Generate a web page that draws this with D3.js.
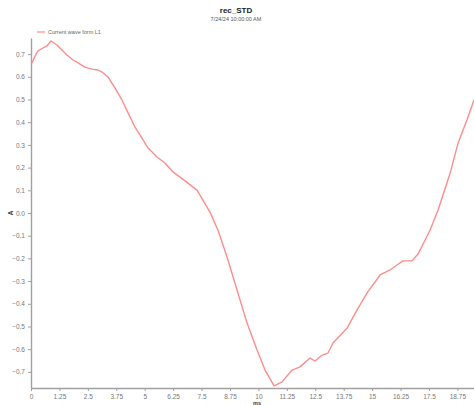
<!DOCTYPE html>
<html>
<head>
<meta charset="utf-8">
<script src="https://cdn.jsdelivr.net/npm/d3@7"></script>
<style>
  body { margin: 0; background: #fff; }
  text { font-family: "Liberation Sans", Arial, sans-serif; }
  .axis path, .axis line { stroke: #a0a0a0; }
  .axis text { fill: #777; font-size: 6.5px; }
</style>
</head>
<body>
<div id="chart"></div>
<script>
// time in ms
var times = [0.04, 0.22, 0.31, 0.53, 0.70, 0.88, 1.14, 1.36, 1.58, 1.85, 2.07, 2.37, 2.68, 2.95, 3.12,
  3.39, 3.69, 4.00, 4.27, 4.57, 4.88, 5.15, 5.54, 5.89, 6.24, 6.73, 7.30, 7.87, 8.22, 8.62, 9.06,
  9.50, 9.94, 10.29, 10.69, 11.04, 11.48, 11.83, 12.27, 12.49, 12.80, 13.06, 13.28, 13.90, 14.34,
  14.78, 15.35, 15.79, 16.09, 16.36, 16.75, 17.02, 17.33, 17.55, 17.90, 18.29, 18.47, 18.56, 18.78,
  19.17, 19.48]
// current in A
var current = [0.661, 0.700, 0.714, 0.727, 0.736, 0.758, 0.740, 0.718, 0.696, 0.674, 0.661, 0.643,
  0.634, 0.630, 0.621, 0.599, 0.551, 0.498, 0.441, 0.379, 0.330, 0.286, 0.247, 0.220, 0.181, 0.145,
  0.101, 0.004, -0.075, -0.194, -0.339, -0.485, -0.604, -0.692, -0.762, -0.744, -0.692, -0.678,
  -0.639, -0.652, -0.626, -0.617, -0.573, -0.507, -0.427, -0.352, -0.273, -0.251, -0.229, -0.211,
  -0.211, -0.181, -0.119, -0.075, 0.013, 0.132, 0.189, 0.225, 0.308, 0.410, 0.498]
var xTicks = [0, 1.25, 2.5, 3.75, 5, 6.25, 7.5, 8.75, 10, 11.25, 12.5, 13.75, 15, 16.25, 17.5, 18.75]
var yTicks = [0.7, 0.6, 0.5, 0.4, 0.3, 0.2, 0.1, 0, -0.1, -0.2, -0.3, -0.4, -0.5, -0.6, -0.7]
var seriesName = "Current wave form L1"

var W = 474, H = 405
var margin = { top: 38, right: 0, bottom: 17, left: 31 }

var svg = d3.select("#chart").append("svg")
  .attr("width", W)
  .attr("height", H)

var x = d3.scaleLinear()
  .domain([0, 19.48])
  .range([margin.left, W - margin.right])

var y = d3.scaleLinear()
  .domain([-0.771, 0.771])
  .range([H - margin.bottom, margin.top])

var xAxis = d3.axisBottom(x)
  .tickValues(xTicks)
  .tickSize(3)
  .tickSizeOuter(0)
  .tickFormat(function (d) { return String(d); })

svg.append("g")
  .attr("class", "x axis")
  .attr("transform", "translate(0," + (H - margin.bottom) + ")")
  .call(xAxis)

var yAxis = d3.axisLeft(y)
  .tickValues(yTicks)
  .tickSize(3)
  .tickSizeOuter(0)
  .tickFormat(d3.format(".1f"))

svg.append("g")
  .attr("class", "y axis")
  .attr("transform", "translate(" + margin.left + ",0)")
  .call(yAxis)

svg.selectAll(".axis .domain").attr("stroke-width", 1.4)

var line = d3.line()
  .x(function (d, i) { return x(times[i]); })
  .y(function (d) { return y(d); })

svg.append("path")
  .datum(current)
  .attr("fill", "none")
  .attr("stroke", "#ff8c8c")
  .attr("stroke-width", 1.4)
  .attr("stroke-linejoin", "round")
  .attr("d", line)

// title
svg.append("text")
  .attr("x", 236).attr("y", 13)
  .attr("text-anchor", "middle")
  .style("font-size", "8px").style("font-weight", "bold").style("fill", "#222")
  .text("rec_STD")

svg.append("text")
  .attr("x", 236).attr("y", 21)
  .attr("text-anchor", "middle")
  .style("font-size", "5.5px").style("fill", "#555")
  .text("7/24/24 10:00:00 AM")

// legend
svg.append("line")
  .attr("x1", 37).attr("x2", 45).attr("y1", 32).attr("y2", 32)
  .attr("stroke", "#ff8c8c").attr("stroke-width", 1.2)

svg.append("text")
  .attr("x", 48).attr("y", 34)
  .style("font-size", "5.5px").style("fill", "#666")
  .text(seriesName)

// axis titles
svg.append("text")
  .attr("transform", "translate(13," + y(0) + ") rotate(-90)")
  .attr("text-anchor", "middle")
  .style("font-size", "7px").style("font-weight", "bold").style("fill", "#333")
  .text("A")

svg.append("text")
  .attr("x", 257).attr("y", 405)
  .attr("text-anchor", "middle")
  .style("font-size", "5.5px").style("font-weight", "bold").style("fill", "#333")
  .text("ms")
</script>
</body>
</html>
